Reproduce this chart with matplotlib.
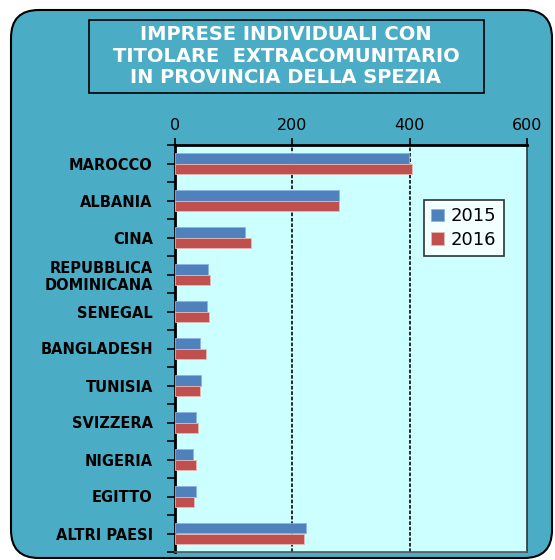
import numpy as np
import matplotlib.pyplot as plt
from matplotlib.patches import FancyBboxPatch

plt.rcParams['font.family'] = ['DejaVu Sans']

# data
paesi = ['MAROCCO', 'ALBANIA', 'CINA', 'REPUBBLICA\nDOMINICANA', 'SENEGAL',
         'BANGLADESH', 'TUNISIA', 'SVIZZERA', 'NIGERIA', 'EGITTO', 'ALTRI PAESI']
v2015 = [399, 280, 120, 57, 55, 42, 44, 35, 30, 35, 223]
v2016 = [404, 279, 130, 60, 58, 52, 42, 39, 35, 33, 220]
anni = ['2015', '2016']

fig = plt.figure(figsize=(5.55, 5.6), dpi=100)
fig.patch.set_facecolor('white')

# rounded teal background
bg = FancyBboxPatch((11/555, 2/560), 541/555, 548/560,
                    boxstyle='round,pad=0,rounding_size=0.05',
                    transform=fig.transFigure, facecolor='#4BACC6',
                    edgecolor='black', linewidth=1.5, zorder=-10)
fig.patches.append(bg)

ax = fig.add_axes([175/555, 8/560, 352/555, 407/560])
ax.set_facecolor('#CCFFFF')

y = np.arange(len(paesi))
h = 0.285
ax.barh(y - h/2, v2015, height=h, color='#4F81BD', edgecolor='#8DB3E2',
        linewidth=0.6, label=anni[0], zorder=3)
ax.barh(y + h/2, v2016, height=h, color='#C0504D', edgecolor='#E6B9B8',
        linewidth=0.6, label=anni[1], zorder=3)

ax.set_xlim(0, 600)
ax.set_ylim(len(paesi) - 0.5, -0.5)
ax.set_xticks([0, 200, 400, 600])
ax.xaxis.tick_top()
ax.tick_params(axis='x', labelsize=11.5, direction='out', length=5, width=1.2, pad=4)

ax.set_yticks(y)
ax.set_yticklabels(paesi, fontsize=10.5, fontweight='bold', linespacing=1.15)
ax.set_yticks(np.arange(len(paesi) + 1) - 0.5, minor=True)
ax.tick_params(axis='y', which='both', direction='out', length=6, width=1.2, pad=10)

for xv in [200, 400]:
    ax.axvline(xv, color='#1a1a1a', linestyle=(0, (2, 1)), linewidth=1.3, zorder=2)

ax.spines['left'].set_linewidth(2)
ax.spines['top'].set_linewidth(2)
ax.spines['right'].set_color('#333333')
ax.spines['right'].set_linewidth(1.2)
ax.spines['bottom'].set_color('#555555')
ax.spines['bottom'].set_linewidth(1.2)

leg = ax.legend(loc='upper left', bbox_to_anchor=(249/352, (552-200)/407),
                borderaxespad=0, fontsize=13, frameon=True, fancybox=False,
                handlelength=0.7, handleheight=0.7, handletextpad=0.4,
                borderpad=0.4, labelspacing=0.3)
leg.get_frame().set_edgecolor('black')
leg.get_frame().set_linewidth(1.2)

fig.text(286/555, 1 - 56/560,
         'IMPRESE INDIVIDUALI CON\nTITOLARE  EXTRACOMUNITARIO\nIN PROVINCIA DELLA SPEZIA',
         ha='center', va='center', color='white', fontsize=14, fontweight='bold',
         linespacing=1.15)
title_box = plt.Rectangle((89/555, 1 - 93/560), 395/555, 73/560,
                          transform=fig.transFigure, facecolor='none',
                          edgecolor='black', linewidth=1.2)
fig.patches.append(title_box)

fig.savefig('out.png', dpi=100)
